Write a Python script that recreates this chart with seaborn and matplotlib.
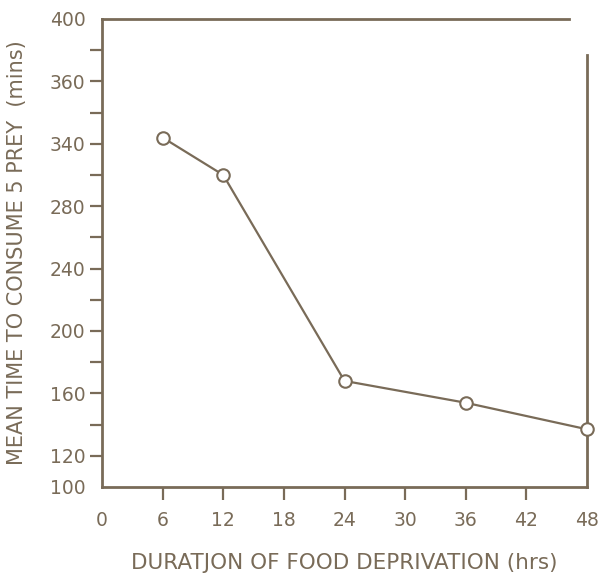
import matplotlib
matplotlib.use("Agg")
import matplotlib.pyplot as plt
import seaborn as sns
import pandas as pd

# Mean time to consume 5 prey after different deprivation periods
deprivation_hrs = [6, 12, 24, 36, 48]
mean_time_mins = [324, 300, 168, 154, 137]

x_ticks = [0, 6, 12, 18, 24, 30, 36, 42, 48]
x_tick_labels = ["0", "6", "12", "18", "24", "30", "36", "42", "48"]
y_ticks = [100, 120, 160, 200, 240, 280, 320, 360, 400]
y_tick_labels = ["100", "120", "160", "200", "240", "280", "340", "360", "400"]
y_minor_ticks = [140, 180, 220, 260, 300, 340, 380]

x_label = "DURATJON OF FOOD DEPRIVATION (hrs)"
y_label = "MEAN TIME TO CONSUME 5 PREY  (mins)"

ink = "#796b58"

sns.set_style("ticks")
plt.rcParams["font.family"] = ["DejaVu Sans"]

df = pd.DataFrame({"hrs": deprivation_hrs, "mins": mean_time_mins})

fig = plt.figure(figsize=(5.98, 5.77), dpi=100)
ax = fig.add_axes([102 / 598, 90 / 577, 485 / 598, 468 / 577])

sns.lineplot(data=df, x="hrs", y="mins", ax=ax, color=ink, linewidth=1.6,
             marker="o", markersize=9, markerfacecolor="white",
             markeredgecolor=ink, markeredgewidth=1.5, clip_on=False, zorder=5)

ax.set_xlim(0, 48)
ax.set_ylim(100, 400)

ax.set_xticks(x_ticks)
ax.set_xticklabels(x_tick_labels)
ax.set_yticks(y_ticks)
ax.set_yticklabels(y_tick_labels)
ax.set_yticks(y_minor_ticks, minor=True)

ax.tick_params(axis="both", which="both", direction="out", length=9, width=1.6,
               color=ink, labelcolor=ink, labelsize=13.5)
ax.tick_params(axis="x", pad=8)
ax.tick_params(axis="y", pad=3)

# no tick marks at the frame corners
for t in (ax.xaxis.get_major_ticks()[0], ax.xaxis.get_major_ticks()[-1],
          ax.yaxis.get_major_ticks()[0], ax.yaxis.get_major_ticks()[-1]):
    t.tick1line.set_visible(False)

for side in ["left", "bottom", "top", "right"]:
    ax.spines[side].set_visible(True)
    ax.spines[side].set_color(ink)
    ax.spines[side].set_linewidth(2.0)
ax.spines["top"].set_bounds(0, 46.2)
ax.spines["right"].set_bounds(100, 377)

ax.set_xlabel(x_label, fontsize=15.5, color=ink, labelpad=17)
ax.set_ylabel(y_label, fontsize=15, color=ink, labelpad=16)

fig.savefig("out.png", dpi=100, facecolor="white")
